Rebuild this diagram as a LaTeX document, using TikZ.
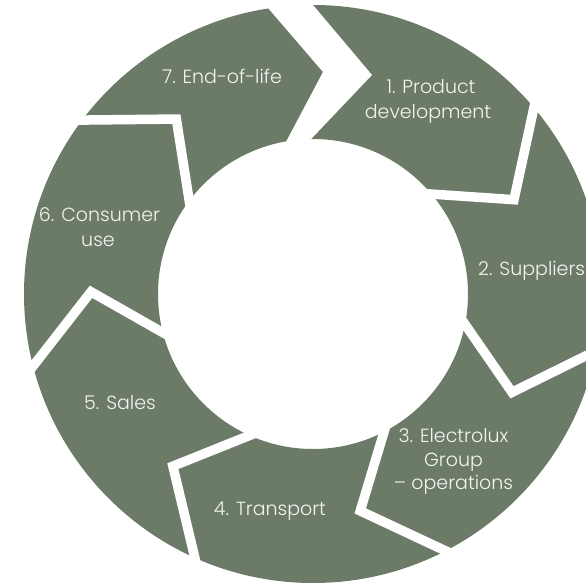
\documentclass[tikz,border=0pt]{standalone}
\usepackage{fontspec}
\setmainfont{Poppins Light}
\usetikzlibrary{calc}
\definecolor{ringgreen}{RGB}{107,123,103}
\definecolor{labelwhite}{RGB}{244,244,240}
\begin{document}
\begin{tikzpicture}[x=1pt,y=1pt,
  ring/.style={fill=ringgreen},
  gapline/.style={draw=white,line width=9.5pt,line join=miter,line cap=butt},
  gapfill/.style={fill=white},
  lbl/.style={text=labelwhite,font=\fontsize{19}{24}\selectfont,inner sep=0pt,anchor=base}]
\useasboundingbox (0,0) rectangle (586,582);
\coordinate (C) at (313,288);
\fill[ring,even odd rule] (C) circle (289pt) (C) circle (155pt);
\foreach \b [count=\i] in {143,194.43,245.86,297.29,348.71,40.14} {
  \coordinate (o\i) at ($(C)+(\b:289)$);
  \coordinate (t\i) at ($(C)+(\b-15:222)$);
  \coordinate (n\i) at ($(C)+(\b:155)$);
  \draw[gapline] ($(t\i)!1.35!(o\i)$) -- (t\i) -- ($(t\i)!1.35!(n\i)$);
}
% wide gap between 7 and 1
\coordinate (wo7) at (268,574);
\coordinate (wt7) at (323,510);
\coordinate (wi7) at (287,442);
\coordinate (wo1) at (313,577);
\coordinate (wt1) at (372,507);
\coordinate (wi1) at (313,445);
\fill[gapfill] ($(wt7)!1.3!(wo7)$) -- (wt7) -- ($(wt7)!1.3!(wi7)$) -- ($(wt1)!1.3!(wi1)$) -- (wt1) -- ($(wt1)!1.3!(wo1)$) -- cycle;
% labels
\node[lbl] (l7) at (222,498) {7. End-of-life};
\node[lbl] (l1a) at (431,488.7) {1. Product};
\node[lbl] (l1b) at (428,463.7) {development};
\node[lbl,anchor=base west] (l2) at (478,307) {2. Suppliers};
\node[lbl] (l3a) at (453.5,140) {3. Electrolux};
\node[lbl] (l3b) at (453.5,116) {Group};
\node[lbl] (l3c) at (453.5,93) {– operations};
\node[lbl] (l4) at (270,67) {4. Transport};
\node[lbl] (l5) at (120,173) {5. Sales};
\node[lbl] (l6a) at (99.5,360) {6. Consumer};
\node[lbl] (l6b) at (98,336) {use};
\end{tikzpicture}
\end{document}
